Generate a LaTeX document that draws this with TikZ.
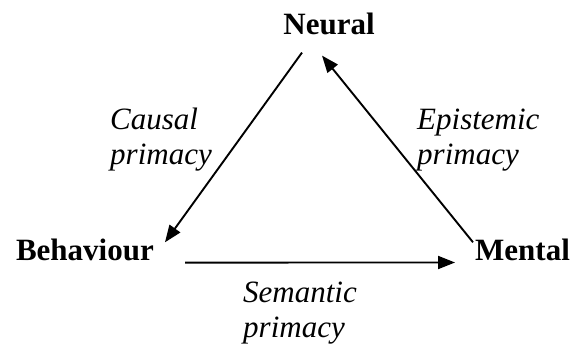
\documentclass[tikz,border=0pt]{standalone}
\usepackage{fontspec}
\setmainfont{Liberation Serif}
\usetikzlibrary{arrows.meta}
\begin{document}
\begin{tikzpicture}[x=1pt,y=-1pt,
  level/.style={font=\fontsize{31}{35}\selectfont\bfseries, inner sep=0pt},
  primacy/.style={font=\fontsize{31}{35}\selectfont\itshape, inner sep=0pt, anchor=base west, align=left},
  link/.style={line width=1.9pt, -{Triangle[length=17pt,width=13pt]}}]
  \useasboundingbox[fill=white] (0,0) rectangle (572,347);

  % the three levels
  \node[level, anchor=base] (neural) at (329,35) {Neural};
  \node[level, anchor=base east] (behaviour) at (154,260) {Behaviour};
  \node[level, anchor=base west] (mental) at (475,260) {Mental};

  % kinds of primacy (placed by the baseline of their last line)
  \node[primacy] (causal) at (110,165) {Causal\\primacy};
  \node[primacy] (epistemic) at (417,165) {Epistemic\\primacy};
  \node[primacy] (semantic) at (243,337) {Semantic\\primacy};

  % relations between the levels
  \draw[link] ([shift={(-27,17)}]neural.south) -- ([shift={(11,4)}]behaviour.north east);
  \draw[link] ([shift={(-2,4)}]mental.north west) -- ([shift={(-7,20)}]neural.south);
  \draw[link] ([shift={(31,2)}]behaviour.south east) -- ([shift={(-20,2)}]mental.south west);
\end{tikzpicture}
\end{document}
